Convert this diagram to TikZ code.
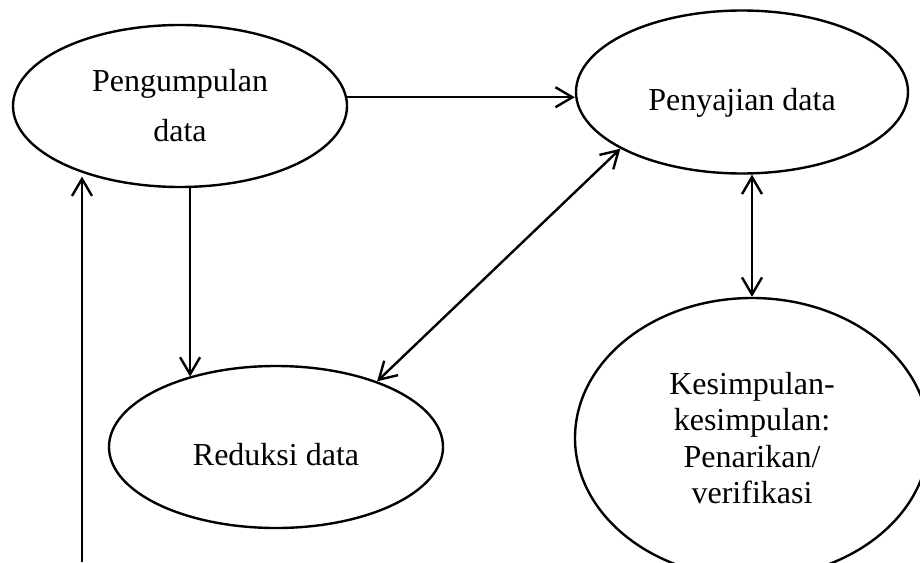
\documentclass[tikz,border=0pt]{standalone}
\usepackage{fontspec}
\setmainfont{Liberation Serif}
\usetikzlibrary{shapes.geometric,arrows.meta}
\begin{document}
\begin{tikzpicture}[x=1pt,y=-1pt,line width=2.4pt,
  bub/.style={draw,ellipse,inner sep=0pt,font=\fontsize{32}{36.5}\selectfont,align=center},
  tipb/.tip={Straight Barb[length=17pt,width=20pt]},
  arr/.style={-tipb},
  darr/.style={tipb-tipb}]
\useasboundingbox (0,0) rectangle (920,562);
\clip (0,0) rectangle (920,562);
\node[bub,minimum width=334pt,minimum height=162pt] (p) at (180,106) {Pengumpulan\\[13.5pt]data};
\node[bub,minimum width=332pt,minimum height=163pt] (y) at (742,92) {\raisebox{-18pt}[0pt][0pt]{Penyajian data}};
\node[bub,minimum width=334pt,minimum height=162pt] (r) at (276,447) {\raisebox{-18pt}[0pt][0pt]{Reduksi data}};
\node[bub,minimum width=354pt,minimum height=280pt] (k) at (752,438) {Kesimpulan-\\kesimpulan:\\Penarikan/\\verifikasi};
\coordinate (bot) at (82,562);
\draw[arr] (p.3) -- (y.west |- p.3);
\draw[arr] (p.-83) -- (p.-83 |- r.141);
\draw[darr] (r.33) -- (y.205);
\draw[darr] (k.north |- y.south) -- (k.north);
\draw[arr,shorten >=4pt] (bot) -- (bot |- p.214);
\end{tikzpicture}
\end{document}
